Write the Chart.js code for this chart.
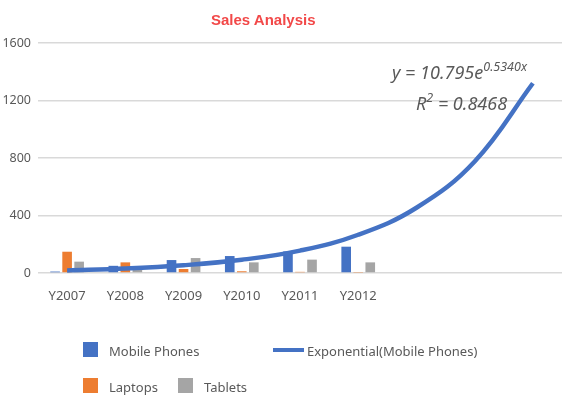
<!DOCTYPE html>
<html>
<head>
<meta charset="utf-8">
<script src="https://cdn.jsdelivr.net/npm/chart.js@4/dist/chart.umd.min.js"></script>
<style>
  html, body { margin: 0; padding: 0; background: #fff; }
  #wrap { position: relative; width: 566px; height: 399px; overflow: hidden; }
  #c { position: absolute; left: 0; top: 0; }
  .abs { position: absolute; white-space: nowrap; }
  #title { left: 211px; top: 11px; width: 100px; text-align: center; font: bold 15px "Liberation Sans", Arial, sans-serif; color: #F24848; }
  .eq { font-family: "Noto Sans", sans-serif; font-style: italic; font-size: 18px; color: #595959; line-height: 20px; }
  .eq sup { font-size: 12.5px; vertical-align: 8px; line-height: 0; }
  .lg { font: 13px "Noto Sans", sans-serif; color: #595959; line-height: 16px; }
  .sw { position: absolute; width: 15px; height: 15px; }
</style>
</head>
<body>
<div id="wrap">
  <canvas id="c" width="566" height="399"></canvas>
  <div id="title" class="abs">Sales Analysis</div>
  <div class="abs eq" style="left:392px; top:62px;">y = 10.795e<sup>0.5340x</sup></div>
  <div class="abs eq" style="left:416px; top:93px;">R<sup>2</sup> = 0.8468</div>

  <div class="sw" style="left:83px; top:342px; background:#4472C4;"></div>
  <div class="abs lg" style="left:109px; top:343px;">Mobile Phones</div>
  <div class="abs" style="left:273px; top:348px; width:31px; height:4px; background:#4472C4;"></div>
  <div class="abs lg" style="left:307px; top:343px;">Exponential(Mobile Phones)</div>
  <div class="sw" style="left:83px; top:378px; background:#ED7D31;"></div>
  <div class="abs lg" style="left:109px; top:379px;">Laptops</div>
  <div class="sw" style="left:178px; top:378px; background:#A5A5A5;"></div>
  <div class="abs lg" style="left:204px; top:379px;">Tablets</div>
</div>
<script>
// ---- data ----
const categories = ['Y2007', 'Y2008', 'Y2009', 'Y2010', 'Y2011', 'Y2012', '', '', ''];
const mobilePhones = [10, 50, 90, 118, 150, 183];
const laptops = [148, 74, 28, 12, 8, 3];
const tablets = [79, 40, 104, 74, 93, 74];
// exponential trendline of Mobile Phones at each category (incl. forecast)
const trendMobile = [18, 31, 54, 92, 156, 266, 454, 776, 1320];
const yTicks = [0, 400, 800, 1200, 1600];

const ctx = document.getElementById('c').getContext('2d');
new Chart(ctx, {
  data: {
    labels: categories,
    datasets: [
      { type: 'line', label: 'Exponential(Mobile Phones)', data: trendMobile,
        borderColor: '#4472C4', borderWidth: 4.5, pointRadius: 0, fill: false,
        tension: 0.4, order: 0 },
      { type: 'bar', label: 'Mobile Phones', data: mobilePhones, backgroundColor: '#4472C4',
        categoryPercentage: 0.62, barPercentage: 0.8, order: 1 },
      { type: 'bar', label: 'Laptops', data: laptops, backgroundColor: '#ED7D31',
        categoryPercentage: 0.62, barPercentage: 0.8, order: 1 },
      { type: 'bar', label: 'Tablets', data: tablets, backgroundColor: '#A5A5A5',
        categoryPercentage: 0.62, barPercentage: 0.8, order: 1 }
    ]
  },
  options: {
    responsive: false,
    animation: false,
    layout: { padding: { top: 43, right: 4, bottom: 86, left: 0 } },
    plugins: { legend: { display: false }, title: { display: false }, tooltip: { enabled: false } },
    scales: {
      x: {
        offset: true,
        grid: { display: false },
        border: { display: false },
        ticks: { color: '#595959', font: { family: 'Noto Sans', size: 13 }, padding: 7, maxRotation: 0, autoSkip: false },
        afterFit: s => { s.height = 40; }
      },
      y: {
        min: 0, max: 1600,
        afterBuildTicks: s => { s.ticks = yTicks.map(v => ({ value: v })); },
        grid: { color: '#D9D9D9', lineWidth: 1.5, drawTicks: false },
        border: { display: false },
        ticks: { color: '#595959', font: { family: 'Noto Sans', size: 12.5 }, padding: 7,
                 callback: v => String(v) },
        afterFit: s => { s.width = 38; }
      }
    }
  }
});
</script>
</body>
</html>
